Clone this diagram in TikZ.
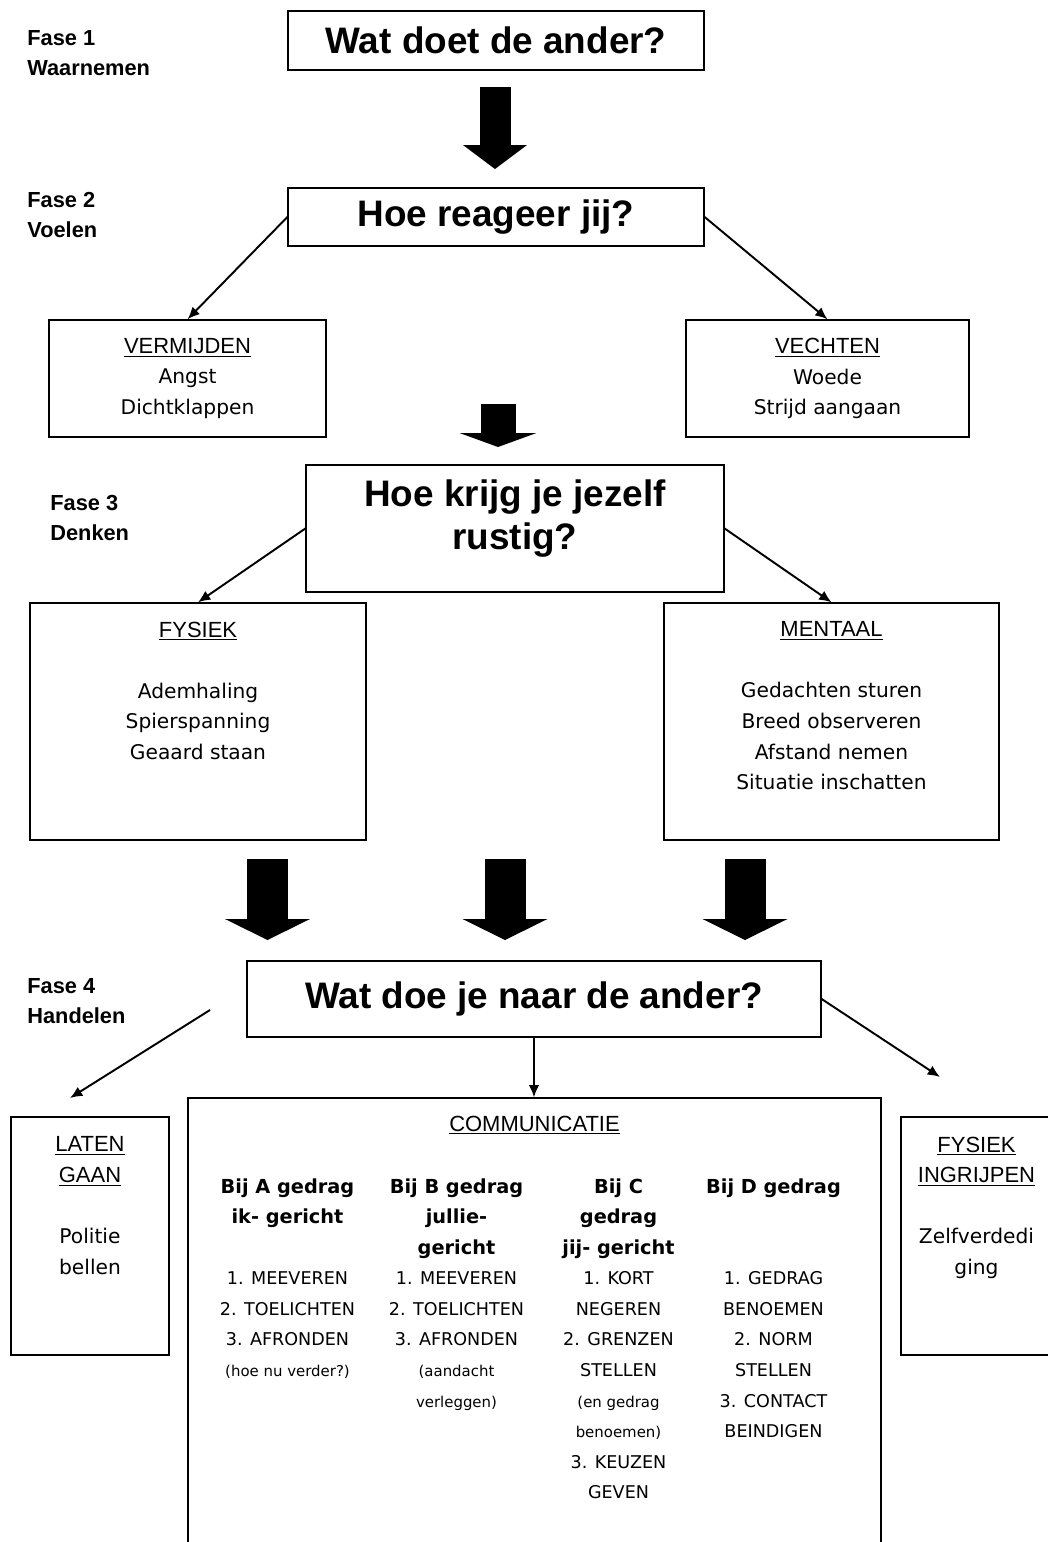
\documentclass[tikz,border=0pt]{standalone}
\usepackage{fontspec}
\setmainfont{Liberation Sans}
\newfontfamily\handfont{DejaVu Sans}
\usetikzlibrary{arrows.meta,positioning}

\newcommand{\kop}[1]{{\normalfont\fontsize{12.5}{17.4}\selectfont\underline{#1}}}
\newcommand{\bij}[1]{{\bfseries\fontsize{11}{17.4}\selectfont #1}}
\newcommand{\klein}[1]{{\fontsize{8.5}{17.4}\selectfont #1}}

\tikzset{
  box/.style={draw, line width=0.8pt, inner sep=0pt},
  vraag/.style={font=\bfseries\fontsize{21}{24.4}\selectfont, align=center},
  fase/.style={font=\bfseries\fontsize{12.4}{17}\selectfont, align=left, anchor=north west, inner sep=0pt},
  hand/.style={font=\handfont\fontsize{11.5}{17.4}\selectfont, align=center, inner sep=0pt},
  kolom/.style={font=\handfont\fontsize{10}{17.4}\selectfont, align=center, anchor=north, inner sep=0pt},
  dikpijl/.style n args={3}{line width=#1, -{Triangle[length=#2, width=#3, line width=0pt]}},
  pijl/.style={line width=1.1pt, -{Latex[length=7pt, width=6pt]}}
}

\begin{document}
\begin{tikzpicture}[x=0.02cm, y=-0.02cm]
  \useasboundingbox (0,0) rectangle (1048,1542);
  \fill[white] (0,0) rectangle (1048,1542);
  \clip (0,0) rectangle (1048,1542);

  % Fase 1
  \node[fase] (f1) at (27,30) {Fase 1\\Waarnemen};
  \node[box, vraag, minimum width=8.32cm, minimum height=1.18cm] (wat) at (496,40.5) {Wat doet de ander?};

  % Fase 2
  \node[fase] (f2) at (27,192) {Fase 2\\Voelen};
  \node[box, vraag, minimum width=8.32cm, minimum height=1.16cm] (hoe) at (496,217) {Hoe reageer jij?};
  \node[box, hand, minimum width=5.54cm, minimum height=2.34cm] (vermijden) at (187.5,378.5)
    {\kop{VERMIJDEN}\\Angst\\Dichtklappen};
  \node[box, hand, minimum width=5.66cm, minimum height=2.34cm] (vechten) at (827.5,378.5)
    {\kop{VECHTEN}\\Woede\\Strijd aangaan};

  % Fase 3
  \node[fase] (f3) at (50,495) {Fase 3\\Denken};
  \node[box, minimum width=8.36cm, minimum height=2.54cm] (rustig) at (515,528.5) {};
  \node[vraag, inner sep=0pt, below=0.3cm of rustig.north] (rustigtxt) {Hoe krijg je jezelf\\rustig?};
  \node[box, minimum width=6.72cm, minimum height=4.74cm] (fysiek) at (198,721.5) {};
  \node[hand, below=0.38cm of fysiek.north] (fysiektxt)
    {\kop{FYSIEK}\\[17.4pt]Ademhaling\\Spierspanning\\Geaard staan};
  \node[box, minimum width=6.70cm, minimum height=4.74cm] (mentaal) at (831.5,721.5) {};
  \node[hand, below=0.38cm of mentaal.north] (mentaaltxt)
    {\kop{MENTAAL}\\[17.4pt]Gedachten sturen\\Breed observeren\\Afstand nemen\\Situatie inschatten};

  % Fase 4
  \node[fase] (f4) at (27,978) {Fase 4\\Handelen};
  \node[box, vraag, minimum width=11.48cm, minimum height=1.52cm] (naar) at (534,999) {Wat doe je naar de ander?};
  \node[box, minimum width=3.16cm, minimum height=4.76cm] (laten) at (90,1236) {};
  \node[hand, below=0.4cm of laten.north] (latentxt)
    {\kop{LATEN}\\\kop{GAAN}\\[17.4pt]Politie\\bellen};
  \node[box, minimum width=3.02cm, minimum height=4.76cm] (ingrijpen) at (976.5,1236) {};
  \node[hand, below=0.4cm of ingrijpen.north] (ingrijpentxt)
    {\kop{FYSIEK}\\\kop{INGRIJPEN}\\[17.4pt]Zelfverdedi\\ging};
  \node[box, minimum width=13.86cm, minimum height=9.64cm] (comm) at (534.5,1339) {};
  \node[inner sep=0pt, below=0.36cm of comm.north] (commtxt) {\kop{COMMUNICATIE}};

  % gedrag A t/m D
  \node[kolom] (gedragA) at (287.5,1178)
    {\bij{Bij A gedrag}\\\bij{ik- gericht}\\[17.4pt]1. MEEVEREN\\2. TOELICHTEN\\3. AFRONDEN\\\klein{(hoe nu verder?)}};
  \node[kolom] (gedragB) at (456.5,1178)
    {\bij{Bij B gedrag}\\\bij{jullie-}\\\bij{gericht}\\1. MEEVEREN\\2. TOELICHTEN\\3. AFRONDEN\\\klein{(aandacht}\\\klein{verleggen)}};
  \node[kolom] (gedragC) at (618.5,1178)
    {\bij{Bij C}\\\bij{gedrag}\\\bij{jij- gericht}\\1. KORT\\NEGEREN\\2. GRENZEN\\STELLEN\\\klein{(en gedrag}\\\klein{benoemen)}\\3. KEUZEN\\GEVEN};
  \node[kolom] (gedragD) at (773.5,1178)
    {\bij{Bij D gedrag}\\[34.8pt]1. GEDRAG\\BENOEMEN\\2. NORM\\STELLEN\\3. CONTACT\\BEINDIGEN};

  % vrije eindpunten
  \coordinate (lbegin) at (210,1010);
  \coordinate (lend) at (70,1098);
  \coordinate (rend) at (940,1077);

  \path[pijl]
    (hoe.west) edge (vermijden.north)
    (hoe.east) edge (vechten.north)
    (rustig.west) edge (fysiek.north)
    (rustig.east) edge (mentaal.north)
    (naar.south) edge (naar.south |- comm.north)
    (lbegin) edge (lend)
    (naar.east) edge (rend);

  % dikke pijlen
  \coordinate (p1a) at (495,87);   \coordinate (p1b) at (495,169);
  \coordinate (p2a) at (498,404);  \coordinate (p2b) at (498,447);
  \draw[dikpijl={0.62cm}{0.48cm}{1.28cm}] (p1a) -- (p1b);
  \draw[dikpijl={0.70cm}{0.28cm}{1.54cm}] (p2a) -- (p2b);
  \foreach \x/\n in {267.5/l, 505/m, 745/r} {
    \coordinate (p3\n a) at (\x,859);
    \coordinate (p3\n b) at (\x,940);
    \draw[dikpijl={0.82cm}{0.42cm}{1.7cm}] (p3\n a) -- (p3\n b);
  }
\end{tikzpicture}
\end{document}
